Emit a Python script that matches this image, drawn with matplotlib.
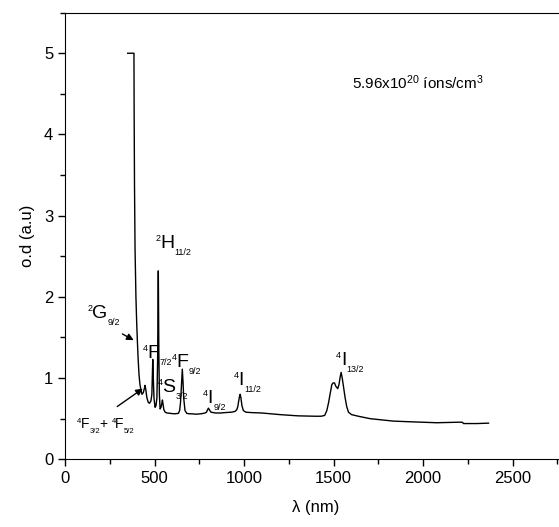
import matplotlib
matplotlib.use('Agg')
from matplotlib import pyplot as plt
from matplotlib.ticker import MultipleLocator

# Datos del espectro de absorcion
wl = [350, 385, 386, 388, 391, 396, 400, 404, 408, 413, 418, 424, 430, 437, 443,
      447, 451, 457, 465, 472, 480, 485, 488, 490, 493, 497, 503, 508, 513, 517,
      521, 524, 527, 531, 536, 540, 544, 548, 552, 559, 570, 590, 610, 633, 640,
      645, 650, 655, 659, 663, 670, 680, 695, 710, 730, 760, 782, 790, 796, 801,
      806, 815, 840, 870, 894, 930, 950, 959, 965, 970, 975, 978, 982, 988, 996,
      1010, 1040, 1099, 1200, 1300, 1397, 1430, 1450, 1462, 1472, 1480, 1490,
      1497, 1505, 1512, 1523, 1530, 1537, 1542, 1548, 1556, 1564, 1573, 1583,
      1600, 1638, 1704, 1834, 1950, 2076, 2207, 2220, 2225, 2300, 2365]
od = [5.0, 5.0, 4.3, 3.4, 2.6, 2.0, 1.7, 1.46, 1.25, 1.05, 0.93, 0.85, 0.80, 0.82, 0.87,
      0.91, 0.86, 0.76, 0.70, 0.69, 0.72, 0.80, 1.05, 1.23, 1.0, 0.75, 0.64, 0.66, 0.75, 1.2,
      2.32, 1.3, 0.8, 0.62, 0.64, 0.68, 0.73, 0.67, 0.61, 0.58, 0.57, 0.565, 0.56, 0.565, 0.60,
      0.70, 0.90, 1.11, 0.95, 0.75, 0.60, 0.565, 0.56, 0.56, 0.555, 0.56, 0.57, 0.58, 0.61, 0.63,
      0.61, 0.58, 0.57, 0.57, 0.575, 0.58, 0.59, 0.61, 0.65, 0.72, 0.78, 0.80, 0.76, 0.66, 0.60,
      0.58, 0.575, 0.57, 0.55, 0.535, 0.53, 0.53, 0.54, 0.60, 0.70, 0.80, 0.92,
      0.94, 0.94, 0.90, 0.87, 0.92, 1.02, 1.07, 1.0, 0.88, 0.76, 0.65, 0.58,
      0.55, 0.53, 0.50, 0.47, 0.46, 0.45, 0.457, 0.455, 0.44, 0.44, 0.445]

# Etiquetas de transiciones: (superindice, letra, subindice, x, y)
etiquetas = [
    ('2', 'G', '9/2', 149, 1.74),
    ('4', 'F', '7/2', 460, 1.25),
    ('4', 'S', '3/2', 543, 0.83),
    ('4', 'F', '9/2', 624, 1.14),
    ('4', 'I', '9/2', 797, 0.69),
    ('4', 'I', '11/2', 968, 0.915),
    ('4', 'I', '13/2', 1540, 1.16),
    ('2', 'H', '11/2', 531, 2.60),
]

plt.rcParams['font.family'] = ['Liberation Sans', 'DejaVu Sans']

fig = plt.figure(figsize=(5.59, 5.27), dpi=100)
ax = fig.add_axes([0.1163, 0.1285, 0.897, 0.8475])

ax.plot(wl, od, color='black', lw=1.0)

ax.set_xlim(0, 2800)
ax.set_ylim(0, 5.5)
ax.xaxis.set_major_locator(MultipleLocator(500))
ax.xaxis.set_minor_locator(MultipleLocator(250))
ax.yaxis.set_major_locator(MultipleLocator(1))
ax.yaxis.set_minor_locator(MultipleLocator(0.5))
ax.tick_params(which='both', direction='out', top=False, right=False, labelsize=12, width=1)
ax.tick_params(which='major', length=5)
ax.tick_params(which='minor', length=3.5)
ax.spines['right'].set_visible(False)

ax.set_xlabel(r'λ (nm)', fontsize=12, labelpad=10)
ax.set_ylabel('o.d (a.u)', fontsize=12, labelpad=6)

renderer = fig.canvas.get_renderer()


def etiqueta(sup, letra, sub, x, y, size=14, small=6.5, caida=7):
    # letra principal en coordenadas de datos, indices en pixeles
    t = ax.text(x, y, letra, fontsize=size, ha='left', va='baseline')
    bb = t.get_window_extent(renderer=renderer)
    px, py = ax.transData.transform((x, y))
    alto = 0.716 * size * fig.dpi / 72
    ax.annotate(sup, xy=(bb.x0 + 0.5, py + alto), xycoords='figure pixels',
                fontsize=small, ha='right', va='top')
    ax.annotate(sub, xy=(bb.x1 + 0.3, py - caida), xycoords='figure pixels',
                fontsize=small, ha='left', va='baseline')


for sup, letra, sub, x, y in etiquetas:
    etiqueta(sup, letra, sub, x, y)

# 4F3/2 + 4F5/2 (mas pequeno)
etiqueta('4', 'F', '3/2', 88, 0.38, size=10, small=5.5, caida=5)
ax.text(213, 0.43, '+', fontsize=10, ha='center', va='center')
etiqueta('4', 'F', '5/2', 281, 0.38, size=10, small=5.5, caida=5)

ax.text(1603, 4.56, r'5.96x10$\mathregular{^{20}}$ íons/cm$\mathregular{^{3}}$',
        fontsize=11, ha='left', va='baseline')

ax.annotate('', xy=(397, 1.45), xytext=(307, 1.56),
            arrowprops=dict(arrowstyle='-|>', color='black', lw=1, mutation_scale=10))
ax.annotate('', xy=(447, 0.89), xytext=(279, 0.63),
            arrowprops=dict(arrowstyle='-|>', color='black', lw=1, mutation_scale=10))

fig.savefig('out.png', dpi=100)
